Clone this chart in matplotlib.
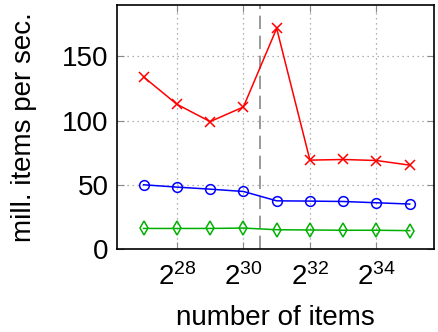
import numpy as np
import matplotlib
matplotlib.use("Agg")
import matplotlib.pyplot as plt

plt.rcParams['font.family'] = ['Liberation Sans', 'DejaVu Sans']
plt.rcParams['mathtext.fontset'] = 'custom'
plt.rcParams['mathtext.rm'] = 'Liberation Sans'
plt.rcParams['mathtext.it'] = 'Liberation Sans'

exponents = [27, 28, 29, 30, 31, 32, 33, 34, 35]
red_vals = [134, 112.7, 99.2, 110.6, 171.8, 69.2, 69.7, 68.9, 65.3]
blue_vals = [50, 48.2, 46.6, 44.8, 37.5, 37.3, 37.0, 36.0, 35.0]
green_vals = [16.0, 16.0, 16.0, 16.3, 15.0, 14.8, 14.6, 14.6, 14.3]
xtick_exps = [28, 30, 32, 34]
yticks = [0, 50, 100, 150]

x = [2.0 ** e for e in exponents]

fig = plt.figure(figsize=(4.38, 3.32), dpi=100)
ax = fig.add_axes([117 / 438, 1 - 249 / 332, (434 - 117) / 438, (249 - 5) / 332])

ax.set_xscale('log', base=2)
ax.set_xlim(2 ** 26.2, 2 ** 35.73)
ax.set_ylim(0, 190)

ax.grid(True, color='#999999', linestyle=(0, (1, 3)), linewidth=0.9)
ax.axvline(2 ** 30.5, color='#888888', linestyle=(0, (8, 4)), linewidth=1.2)

ax.plot(x, red_vals, color='#ff0000', marker='x', markersize=7, markeredgewidth=1.1, linewidth=1.1)
ax.plot(x, blue_vals, color='#0000ff', marker='o', markersize=7, markerfacecolor='none',
        markeredgewidth=1.1, linewidth=1.1)
ax.plot(x, green_vals, color='#00b000', marker='d', markersize=7, markerfacecolor='none',
        markeredgewidth=1.1, linewidth=1.1)

ax.set_xticks([2.0 ** e for e in xtick_exps])
ax.set_xticklabels([f'$\\mathrm{{2}}^{{\\mathrm{{{e}}}}}$' for e in xtick_exps])
ax.xaxis.set_minor_locator(matplotlib.ticker.NullLocator())
ax.set_yticks(yticks)

ax.tick_params(direction='in', length=5, color='#888888', labelsize=20, top=True, right=True, pad=6)
ax.tick_params(axis='x', pad=10)
for sp in ax.spines.values():
    sp.set_linewidth(1.2)

ax.set_xlabel('number of items', fontsize=20, labelpad=10)
ax.set_ylabel('mill. items per sec.', fontsize=20, labelpad=18)

fig.savefig('out.png', dpi=100)
